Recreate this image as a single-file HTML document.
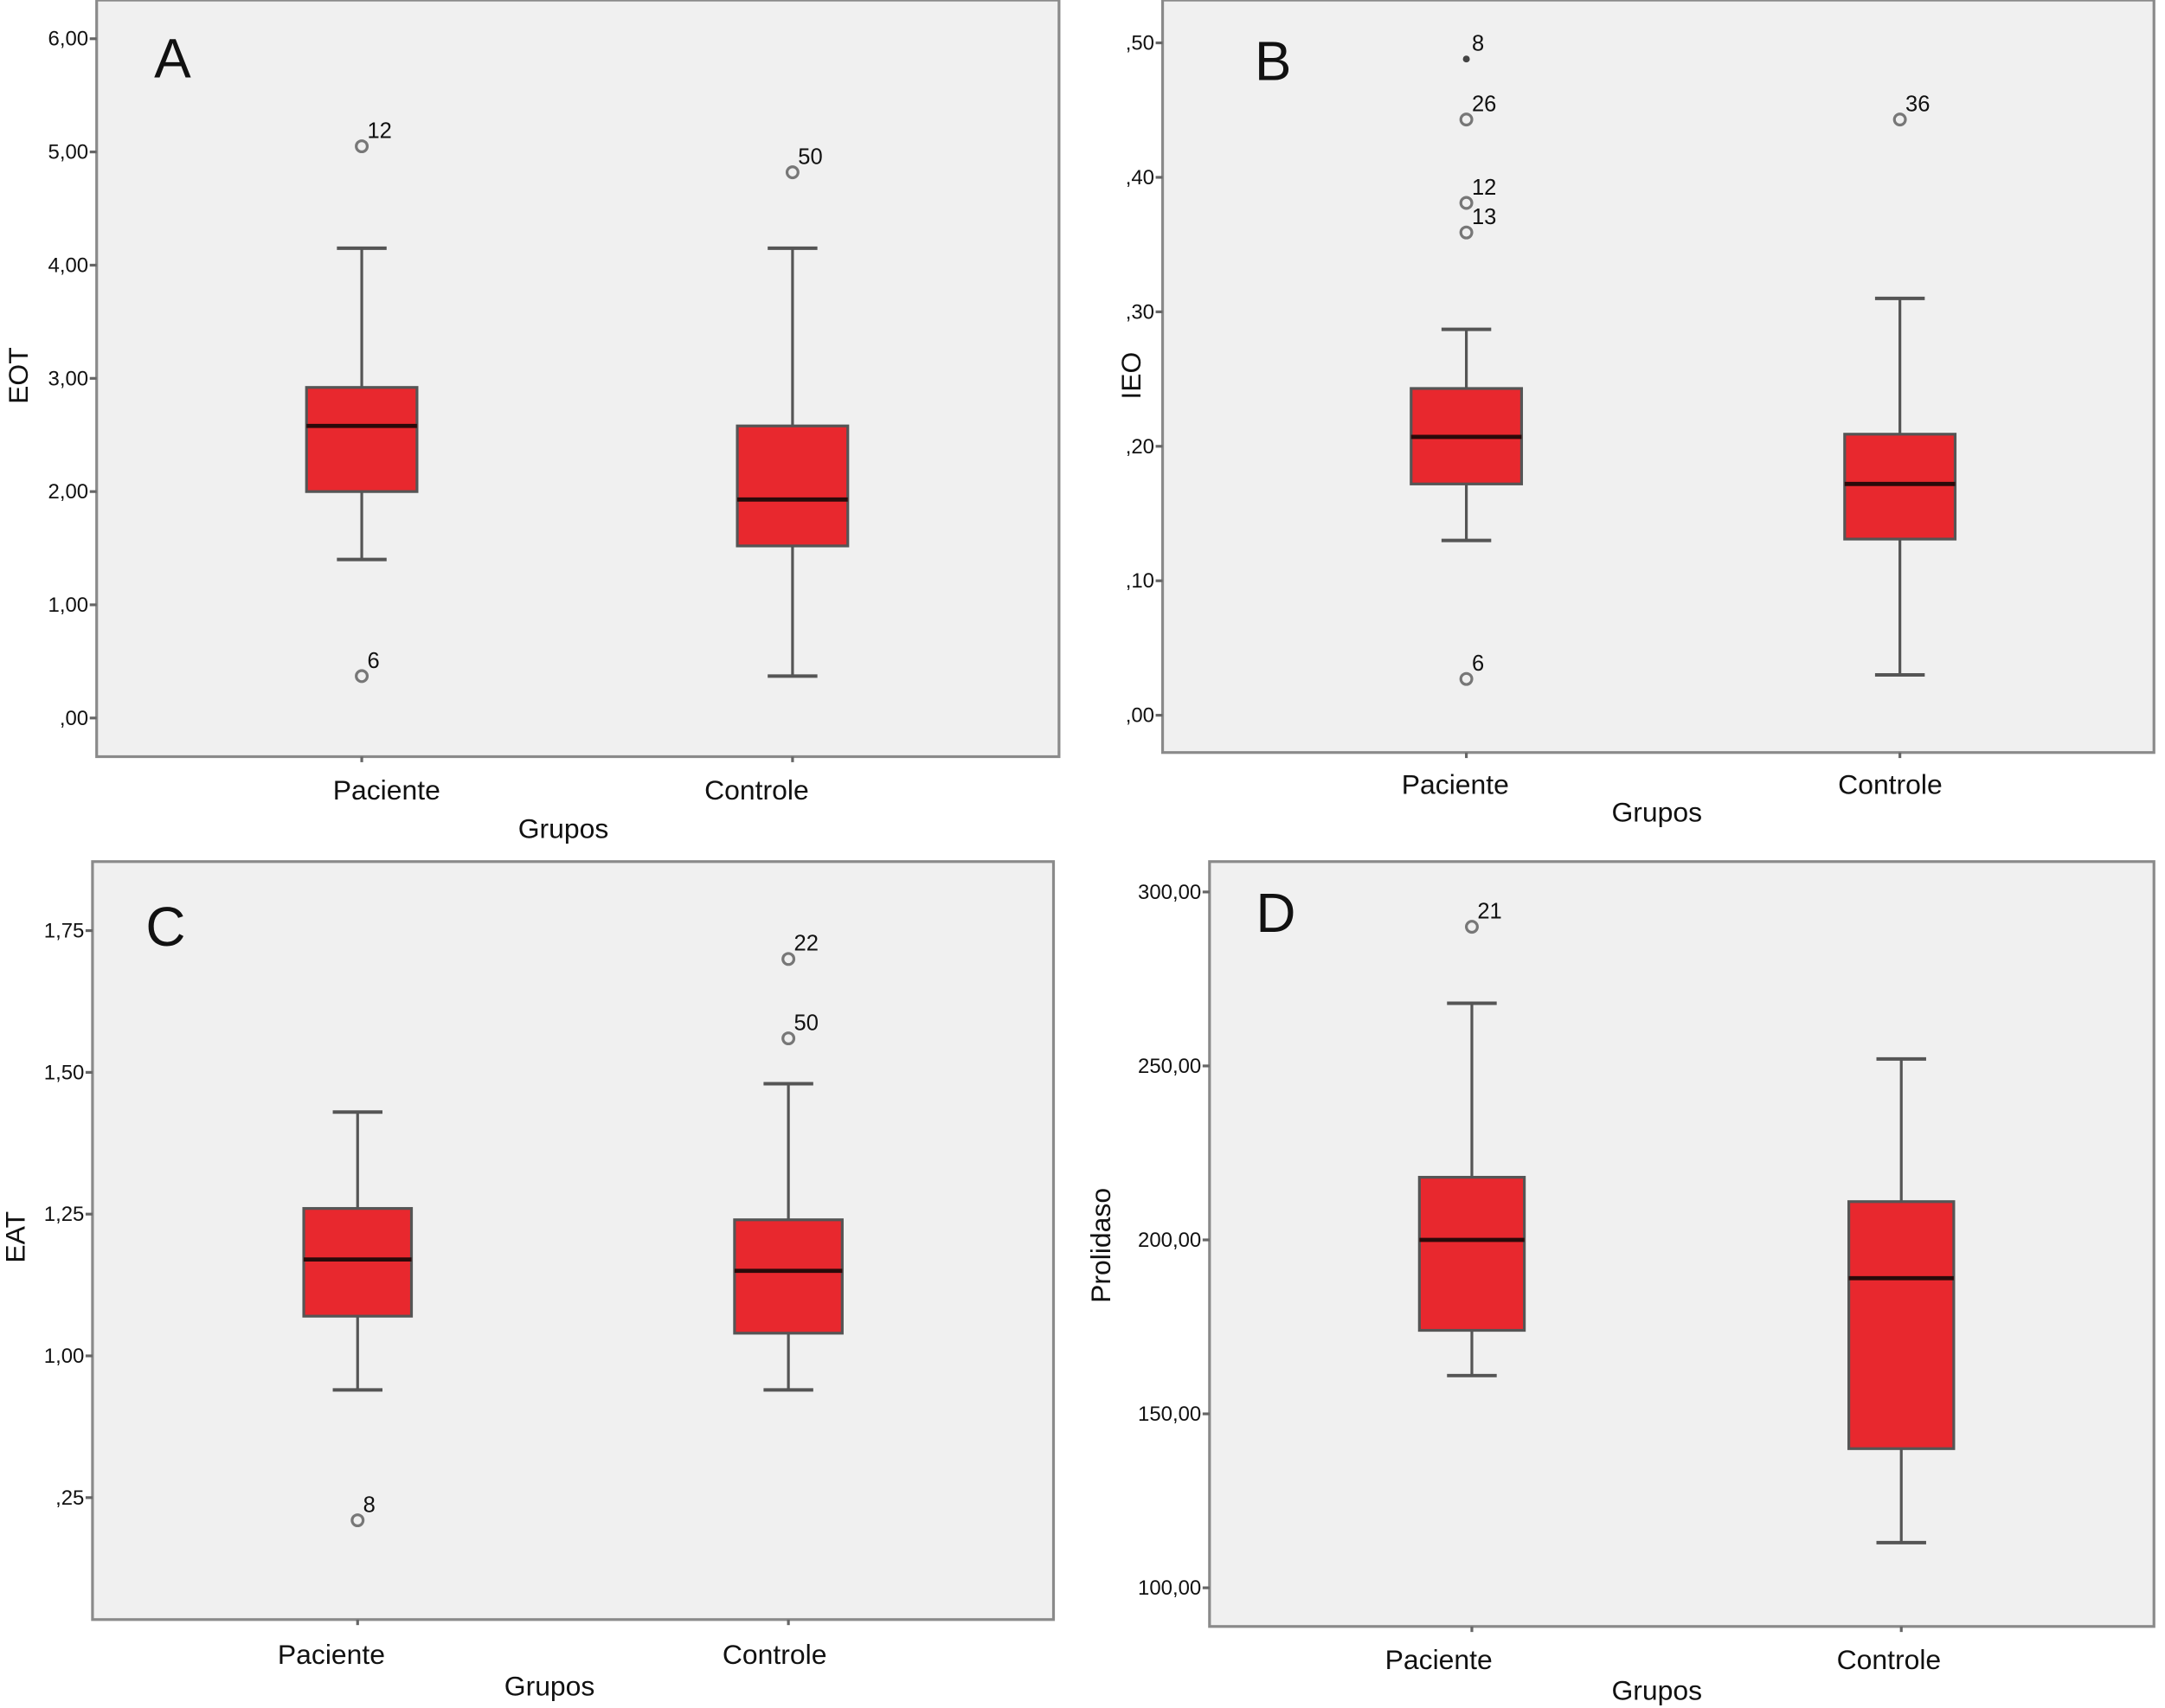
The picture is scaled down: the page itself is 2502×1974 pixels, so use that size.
<!DOCTYPE html>
<html><head><meta charset="utf-8"><style>
html,body{margin:0;padding:0;background:#fff}
svg{display:block}
text{font-family:"Liberation Sans",sans-serif;fill:#111}
</style></head><body>
<svg id="fig" width="2502" height="1974" viewBox="0 0 1568 1237" xmlns="http://www.w3.org/2000/svg"></svg>
<script>
// ---- data ----
const categories = ["Paciente", "Controle"];
// Panel A (EOT)
const aTicks = [6, 5, 4, 3, 2, 1, 0];
const aTickLabels = ["6,00","5,00","4,00","3,00","2,00","1,00",",00"];
const aBoxes = [[1.4, 2.0, 2.58, 2.92, 4.15],[0.37, 1.52, 1.93, 2.58, 4.15]];
const aOutliers = [[5.05,"12",0],[0.37,"6",0],[4.82,"50",1]];
// Panel B (IEO)
const bTicks = [0.5,0.4,0.3,0.2,0.1,0];
const bTickLabels = [",50",",40",",30",",20",",10",",00"];
const bBoxes = [[0.13,0.172,0.207,0.243,0.287],[0.03,0.131,0.172,0.209,0.31]];
const bOutliers = [[0.488,"8",0,"star"],[0.443,"26",0],[0.381,"12",0],[0.359,"13",0],[0.027,"6",0],[0.443,"36",1]];
// Panel C (EAT)
const cTicks = [1.75,1.5,1.25,1.0,0.75];
const cTickLabels = ["1,75","1,50","1,25","1,00",",25"];
const cBoxes = [[0.94,1.07,1.17,1.26,1.43],[0.94,1.04,1.15,1.24,1.48]];
const cOutliers = [[0.71,"8",0],[1.70,"22",1],[1.56,"50",1]];
// Panel D (Prolidaso)
const dTicks = [300,250,200,150,100];
const dTickLabels = ["300,00","250,00","200,00","150,00","100,00"];
const dBoxes = [[161,174,200,218,268],[113,140,189,211,252]];
const dOutliers = [[290,"21",0]];

const panels = [
 {id:"a",letter:"A",title:"EOT",frame:[70,0,767,548],v0:6,y0:28,v1:0,y1:520,cx:[262,574],bw:80,ticks:aTicks,labels:aTickLabels,boxes:aBoxes,out:aOutliers,
  letterPos:[125,56],titlePos:[20,272],catY:579,catX:[280,548],grp:[408,607]},
 {id:"b",letter:"B",title:"IEO",frame:[842,0,1560,545],v0:0.5,y0:31,v1:0,y1:518,cx:[1062,1376],bw:80,ticks:bTicks,labels:bTickLabels,boxes:bBoxes,out:bOutliers,
  letterPos:[922,58],titlePos:[826,272],catY:575,catX:[1054,1369],grp:[1200,595]},
 {id:"c",letter:"C",title:"EAT",frame:[67,624,763,1173],v0:1.75,y0:674,v1:1.0,y1:982,cx:[259,571],bw:78,ticks:cTicks,labels:cTickLabels,boxes:cBoxes,out:cOutliers,
  letterPos:[120,685],titlePos:[18,896],catY:1205,catX:[240,561],grp:[398,1228]},
 {id:"d",letter:"D",title:"Prolidaso",frame:[876,624,1560,1178],v0:300,y0:646,v1:100,y1:1150,cx:[1066,1377],bw:76,ticks:dTicks,labels:dTickLabels,boxes:dBoxes,out:dOutliers,
  letterPos:[924,675],titlePos:[804,902],catY:1209,catX:[1042,1368],grp:[1200,1231]}
];

const NS="http://www.w3.org/2000/svg";
const svg=document.getElementById("fig");
function mk(tag,attrs,parent,txt){const e=document.createElementNS(NS,tag);for(const k in attrs)e.setAttribute(k,attrs[k]);if(txt!==undefined)e.textContent=txt;(parent||svg).appendChild(e);return e;}

panels.forEach(p=>{
  const g=mk("g",{});
  
  
  const y=v=>p.y0+(v-p.v0)*(p.y1-p.y0)/(p.v1-p.v0);
  const [x0,t0,x1,b0]=p.frame;
  const bg=mk("rect",{x:x0,y:t0,width:x1-x0,height:b0-t0,fill:"#f0f0f0",stroke:"#8a8a8a","stroke-width":2},g);
  
  
  // ticks
  p.ticks.forEach((t,i)=>{
    const yy=y(t);
    mk("line",{x1:x0-5,x2:x0,y1:yy,y2:yy,stroke:"#666","stroke-width":2},g);
    const tl=mk("text",{x:x0-6,y:yy+5,"text-anchor":"end","font-size":15},g,p.labels[i]);
    
    
  });
  // x ticks + category labels
  categories.forEach((c,i)=>{
    mk("line",{x1:p.cx[i],x2:p.cx[i],y1:b0,y2:b0+4,stroke:"#666","stroke-width":2},g);
    const cl=mk("text",{x:p.catX[i],y:p.catY,"text-anchor":"middle","font-size":20},g,c);
    
    
  });
  const gl=mk("text",{x:p.grp[0],y:p.grp[1],"text-anchor":"middle","font-size":20},g,"Grupos");
  
  
  const yt=mk("text",{x:p.titlePos[0],y:p.titlePos[1],"text-anchor":"middle","font-size":20,transform:`rotate(-90 ${p.titlePos[0]} ${p.titlePos[1]})`},g,p.title);
  
  
  const lt=mk("text",{x:p.letterPos[0],y:p.letterPos[1],"text-anchor":"middle","font-size":40},g,p.letter);
  
  
  // boxes
  p.boxes.forEach((b,i)=>{
    const cx=p.cx[i],hw=p.bw/2,cap=18;
    const [lo,q1,med,q3,hi]=b;
    mk("line",{x1:cx,x2:cx,y1:y(hi),y2:y(q3),stroke:"#555","stroke-width":2},g);
    mk("line",{x1:cx,x2:cx,y1:y(q1),y2:y(lo),stroke:"#555","stroke-width":2},g);
    mk("line",{x1:cx-cap,x2:cx+cap,y1:y(hi),y2:y(hi),stroke:"#555","stroke-width":2.5},g);
    mk("line",{x1:cx-cap,x2:cx+cap,y1:y(lo),y2:y(lo),stroke:"#555","stroke-width":2.5},g);
    const r=mk("rect",{x:cx-hw,y:y(q3),width:p.bw,height:y(q1)-y(q3),fill:"#e8282e",stroke:"#555","stroke-width":2},g);
    
    
    mk("line",{x1:cx-hw,x2:cx+hw,y1:y(med),y2:y(med),stroke:"#2a0a0a","stroke-width":3},g);
  });
  // outliers
  p.out.forEach(o=>{
    const cx=p.cx[o[2]],yy=y(o[0]);
    let m;
    if(o[3]==="star") m=mk("circle",{cx:cx,cy:yy,r:2.5,fill:"#444"},g);
    else m=mk("circle",{cx:cx,cy:yy,r:4,fill:"none",stroke:"#777","stroke-width":2},g);
    
    
    const ol=mk("text",{x:cx+4,y:yy-6,"font-size":16},g,o[1]);
    
    
  });
});
</script>
</body></html>
